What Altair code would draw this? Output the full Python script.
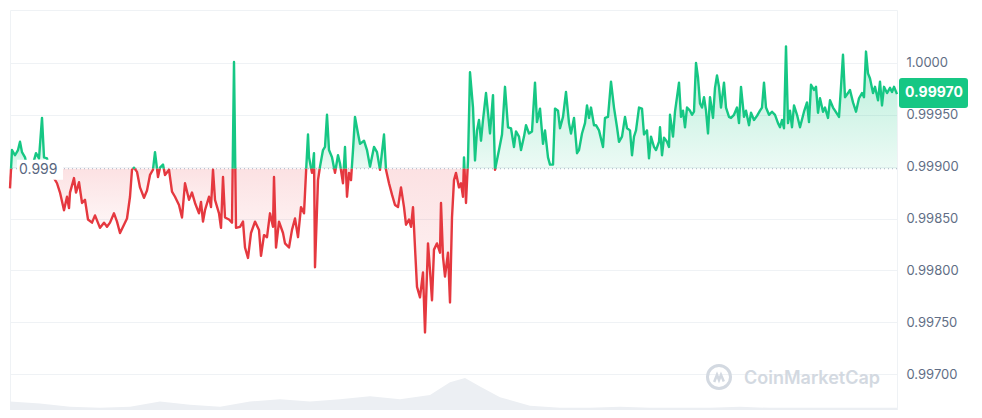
import altair as alt
import pandas as pd

# time counter (ticks since start) and price readings
T = [0, 2, 5, 8, 10, 12, 15, 18, 21, 24, 26, 29, 32, 34, 37, 40, 44, 47, 50, 54,
     57, 59, 60, 64, 66, 69, 72, 75, 78, 82, 85, 90, 94, 97, 100, 104, 107, 110, 114, 117,
     120, 122, 124, 127, 130, 134, 137, 140, 143, 145, 148, 150, 153, 155, 159, 162, 165, 169, 172, 175,
     179, 182, 185, 189, 191, 193, 195, 199, 201, 203, 205, 209, 211, 213, 215, 219, 222, 224, 226, 230,
     233, 235, 238, 241, 245, 249, 251, 254, 257, 260, 263, 264, 266, 269, 273, 275, 279, 282, 285, 288,
     291, 294, 296, 298, 299, 302, 304, 305, 308, 310, 313, 315, 317, 319, 322, 325, 328, 330, 333, 335,
     337, 339, 341, 343, 345, 348, 350, 354, 357, 360, 364, 367, 370, 374, 376, 379, 382, 385, 388, 391,
     394, 396, 399, 401, 403, 405, 407, 410, 413, 415, 418, 420, 422, 424, 427, 430, 431, 433, 435, 438,
     440, 442, 444, 446, 449, 451, 453, 454, 456, 458, 460, 463, 465, 467, 469, 471, 473, 476, 478, 480,
     483, 485, 489, 492, 495, 498, 501, 504, 506, 509, 511, 514, 516, 519, 522, 525, 527, 530, 533, 535,
     538, 540, 543, 545, 548, 550, 553, 556, 559, 561, 564, 567, 569, 572, 575, 577, 579, 581, 584, 586,
     589, 593, 595, 598, 601, 604, 607, 609, 612, 615, 617, 620, 622, 624, 626, 629, 632, 634, 637, 639,
     641, 644, 646, 649, 650, 652, 654, 657, 659, 660, 663, 665, 667, 669, 671, 673, 675, 677, 680, 682,
     684, 686, 688, 690, 692, 694, 696, 698, 700, 703, 705, 707, 709, 711, 714, 716, 719, 721, 724, 727,
     729, 731, 734, 736, 739, 741, 744, 747, 750, 752, 754, 756, 759, 762, 765, 768, 770, 772, 774, 776,
     778, 780, 782, 784, 787, 790, 794, 797, 799, 801, 804, 806, 808, 810, 813, 815, 818, 820, 823, 825,
     829, 831, 833, 835, 838, 840, 843, 846, 849, 852, 854, 856, 858, 860, 863, 865, 868, 870, 872, 874,
     877, 880, 882, 884, 887]

P = [0.99879, 0.99916, 0.99911, 0.99916, 0.99924, 0.99914, 0.99909, 0.99895, 0.99892, 0.99906,
     0.99913, 0.99908, 0.99947, 0.99909, 0.99908, 0.99893, 0.99889, 0.99884, 0.99875, 0.99858,
     0.99871, 0.99860, 0.99875, 0.99889, 0.99875, 0.99885, 0.99865, 0.99868, 0.99849, 0.99846,
     0.99853, 0.99841, 0.99846, 0.99842, 0.99846, 0.99855, 0.99847, 0.99836, 0.99844, 0.99850,
     0.99871, 0.99897, 0.99899, 0.99895, 0.99880, 0.99870, 0.99877, 0.99892, 0.99897, 0.99914,
     0.99890, 0.99899, 0.99902, 0.99892, 0.99897, 0.99876, 0.99871, 0.99863, 0.99851, 0.99884,
     0.99868, 0.99875, 0.99865, 0.99855, 0.99866, 0.99847, 0.99858, 0.99871, 0.99861, 0.99897,
     0.99868, 0.99855, 0.99841, 0.99890, 0.99851, 0.99849, 0.99846, 1.00001, 0.99841, 0.99842,
     0.99847, 0.99822, 0.99812, 0.99836, 0.99847, 0.99839, 0.99814, 0.99834, 0.99832, 0.99855,
     0.99842, 0.99890, 0.99822, 0.99847, 0.99836, 0.99826, 0.99822, 0.99839, 0.99850, 0.99832,
     0.99861, 0.99855, 0.99894, 0.99931, 0.99909, 0.99894, 0.99913, 0.99803, 0.99887, 0.99900,
     0.99916, 0.99919, 0.99950, 0.99916, 0.99909, 0.99894, 0.99911, 0.99903, 0.99884, 0.99919,
     0.99871, 0.99894, 0.99887, 0.99916, 0.99948, 0.99932, 0.99922, 0.99925, 0.99916, 0.99900,
     0.99919, 0.99914, 0.99897, 0.99931, 0.99897, 0.99884, 0.99873, 0.99863, 0.99861, 0.99880,
     0.99861, 0.99844, 0.99849, 0.99842, 0.99861, 0.99822, 0.99784, 0.99774, 0.99798, 0.99740,
     0.99826, 0.99800, 0.99771, 0.99820, 0.99826, 0.99817, 0.99865, 0.99813, 0.99794, 0.99817,
     0.99769, 0.99851, 0.99887, 0.99894, 0.99880, 0.99884, 0.99871, 0.99909, 0.99865, 0.99906,
     0.99991, 0.99957, 0.99906, 0.99935, 0.99945, 0.99925, 0.99945, 0.99971, 0.99952, 0.99932,
     0.99969, 0.99897, 0.99916, 0.99931, 0.99977, 0.99938, 0.99937, 0.99919, 0.99934, 0.99929,
     0.99916, 0.99929, 0.99940, 0.99932, 0.99934, 0.99981, 0.99943, 0.99956, 0.99922, 0.99935,
     0.99909, 0.99902, 0.99902, 0.99956, 0.99954, 0.99937, 0.99948, 0.99972, 0.99942, 0.99932,
     0.99947, 0.99913, 0.99916, 0.99932, 0.99942, 0.99959, 0.99947, 0.99957, 0.99940, 0.99940,
     0.99935, 0.99919, 0.99947, 0.99948, 0.99982, 0.99957, 0.99938, 0.99924, 0.99929, 0.99948,
     0.99937, 0.99935, 0.99911, 0.99929, 0.99935, 0.99957, 0.99956, 0.99931, 0.99935, 0.99908,
     0.99929, 0.99919, 0.99916, 0.99924, 0.99938, 0.99911, 0.99928, 0.99924, 0.99919, 0.99950,
     0.99929, 0.99953, 0.99967, 0.99981, 0.99948, 0.99954, 0.99938, 0.99957, 0.99954, 0.99950,
     0.99953, 1.00000, 0.99986, 0.99961, 0.99957, 0.99967, 0.99954, 0.99932, 0.99967, 0.99947,
     0.99976, 0.99988, 0.99977, 0.99957, 0.99981, 0.99957, 0.99948, 0.99947, 0.99950, 0.99957,
     0.99942, 0.99977, 0.99948, 0.99954, 0.99940, 0.99952, 0.99945, 0.99949, 0.99954, 0.99957,
     0.99981, 0.99957, 0.99950, 0.99953, 0.99950, 0.99942, 0.99938, 0.99945, 0.99937, 1.00016,
     0.99942, 0.99954, 0.99938, 0.99959, 0.99950, 0.99938, 0.99953, 0.99962, 0.99943, 0.99979,
     0.99974, 0.99977, 0.99952, 0.99966, 0.99953, 0.99957, 0.99947, 0.99964, 0.99957, 0.99954,
     0.99948, 0.99977, 1.00008, 0.99967, 0.99971, 0.99974, 0.99962, 0.99953, 0.99966, 0.99971,
     0.99967, 1.00011, 0.99990, 0.99985, 0.99971, 0.99977, 0.99964, 0.99982, 0.99959, 0.99977,
     0.99971, 0.99976, 0.99972, 0.99977, 0.99970]

BASE = 0.99898
BASE_LABEL = "0.999"
GRID = [0.997, 0.9975, 0.998, 0.9985, 0.999, 0.9995, 1.0]

VOL_T = [0, 30, 60, 90, 120, 150, 180, 210, 240, 270, 300, 330, 360, 390, 420, 440,
         455, 470, 490, 520, 550, 580, 610, 640, 670, 700, 730, 760, 790, 820, 850, 887]
VOL = [8, 6, 3, 2, 3, 8, 5, 3, 8, 10, 8, 10, 13, 10, 14, 26,
       30, 22, 12, 4, 2, 2, 3, 2, 2, 2, 3, 2, 2, 2, 2, 2]

GREEN = "#16c784"
RED = "#e5383f"

# split the series into runs above / below the baseline
rows = []
seg = 0
cur = None
for i, (t, p) in enumerate(zip(T, P)):
    side = "up" if p >= BASE else "down"
    if cur is None:
        cur = side
    elif side != cur:
        t0, p0 = T[i - 1], P[i - 1]
        tc = t0 + (BASE - p0) / (p - p0) * (t - t0)
        rows.append((tc, BASE, seg, cur))
        seg += 1
        cur = side
        rows.append((tc, BASE, seg, cur))
    rows.append((t, p, seg, cur))
df = pd.DataFrame(rows, columns=["t", "price", "seg", "side"])
df["base"] = BASE

XS = alt.X("t:Q", scale=alt.Scale(domain=[0, 887], nice=False, zero=False), axis=None)
YSCALE = alt.Scale(domain=[0.996653, 1.000511], nice=False, zero=False)
YAXIS = alt.Axis(orient="right", values=GRID,
                 labelExpr="datum.value >= 0.99999 ? '1.0000' : format(datum.value, '.5f')",
                 grid=True, gridColor="#eff2f5", gridWidth=1, ticks=False, domain=False,
                 labelPadding=9, labelFont="Inter", labelFontSize=13, labelColor="#616e85",
                 title=None)


def Y(field="price:Q"):
    return alt.Y(field, scale=YSCALE, axis=YAXIS)


green_grad = alt.Gradient(gradient="linear",
                          stops=[alt.GradientStop(color="rgba(22,199,132,0.32)", offset=0),
                                 alt.GradientStop(color="rgba(22,199,132,0.08)", offset=1)],
                          x1=1, x2=1, y1=0, y2=1)
red_grad = alt.Gradient(gradient="linear",
                        stops=[alt.GradientStop(color="rgba(234,57,67,0.15)", offset=0),
                               alt.GradientStop(color="rgba(234,57,67,0.03)", offset=1)],
                        x1=1, x2=1, y1=0, y2=1)

base = alt.Chart(df)
up = base.transform_filter("datum.side == 'up'")
down = base.transform_filter("datum.side == 'down'")

up_area = up.mark_area(color=green_grad).encode(x=XS, y=Y(), y2="base:Q", detail="seg:N")
down_area = down.mark_area(color=red_grad).encode(x=XS, y=Y(), y2="base:Q", detail="seg:N")

rule = alt.Chart(pd.DataFrame({"b": [BASE]})).mark_rule(
    color="#a6afc2", strokeDash=[1, 3], strokeWidth=1).encode(y=Y("b:Q"))

up_line = up.mark_line(color=GREEN, strokeWidth=2.4, strokeJoin="round").encode(
    x=XS, y=Y(), detail="seg:N")
down_line = down.mark_line(color=RED, strokeWidth=2.4, strokeJoin="round").encode(
    x=XS, y=Y(), detail="seg:N")

lab_df = pd.DataFrame({"t": [T[0]], "price": [BASE], "label": [BASE_LABEL]})
BOX_PATH = "M1.4,-1.8 L10.6,-1.8 L10.6,2.2 L1.4,2.2 Z"
lab_box = alt.Chart(lab_df).mark_point(shape=BOX_PATH, size=100, filled=True, color="white",
                                       opacity=1, strokeWidth=0).encode(x=XS, y=Y())
lab_text = alt.Chart(lab_df).mark_text(align="left", baseline="middle", dx=9, dy=1, fontSize=14,
                                       font="Inter", color="#58667e").encode(
    x=XS, y=Y(), text="label:N")

last_df = pd.DataFrame({"t": [T[-1]], "price": [P[-1]], "label": [f"{P[-1]:.5f}"]})
BADGE_PATH = ("M0.5,-1.6 L6.8,-1.6 Q7.1,-1.6 7.1,-1.3 L7.1,1.1 Q7.1,1.4 6.8,1.4 "
              "L0.5,1.4 Q0.2,1.4 0.2,1.1 L0.2,-1.3 Q0.2,-1.6 0.5,-1.6 Z")
badge = alt.Chart(last_df).mark_point(shape=BADGE_PATH, size=400, filled=True, color=GREEN,
                                      opacity=1, strokeWidth=0).encode(x=XS, y=Y())
badge_text = alt.Chart(last_df).mark_text(align="center", baseline="middle", dx=37, dy=-1,
                                          fontSize=14, fontWeight="bold", font="Inter",
                                          color="white").encode(x=XS, y=Y(), text="label:N")

price_layers = alt.layer(up_area, down_area, rule, up_line, down_line,
                         lab_box, lab_text, badge, badge_text)

vol_chart = alt.Chart(pd.DataFrame({"t": VOL_T, "vol": VOL})).mark_area(
    color="#eceff3").encode(x=XS, y=alt.Y("vol:Q", scale=alt.Scale(domain=[0, 375]), axis=None))

wm_df = pd.DataFrame({"w": ["CoinMarketCap"]})
wm_text = alt.Chart(wm_df).mark_text(align="left", baseline="middle", fontSize=18,
                                     fontWeight=600, font="Inter", color="#d3d9e1").encode(
    x=alt.value(734), y=alt.value(369), text="w:N")
wm_circle = alt.Chart(wm_df).mark_point(shape="circle", size=530, filled=False,
                                        color="#d3d9e1", strokeWidth=3, opacity=1).encode(
    x=alt.value(709), y=alt.value(367))
M_PATH = "M-0.6,0.5 L-0.25,-0.4 L0.0,0.25 L0.25,-0.4 L0.6,0.45"
wm_m = alt.Chart(wm_df).mark_point(shape=M_PATH, size=256, filled=False, color="#d3d9e1",
                                   strokeWidth=2.5, opacity=1).encode(
    x=alt.value(709), y=alt.value(368))

chart = alt.layer(vol_chart, wm_circle, wm_m, wm_text, price_layers).resolve_scale(
    y="independent"
).properties(
    width=887, height=400,
    padding={"left": 0, "top": 2, "right": 0, "bottom": 0},
    background="white",
).configure_view(stroke="#eff2f5")

chart.save("out.html", embed_options={"renderer": "svg", "actions": False})
